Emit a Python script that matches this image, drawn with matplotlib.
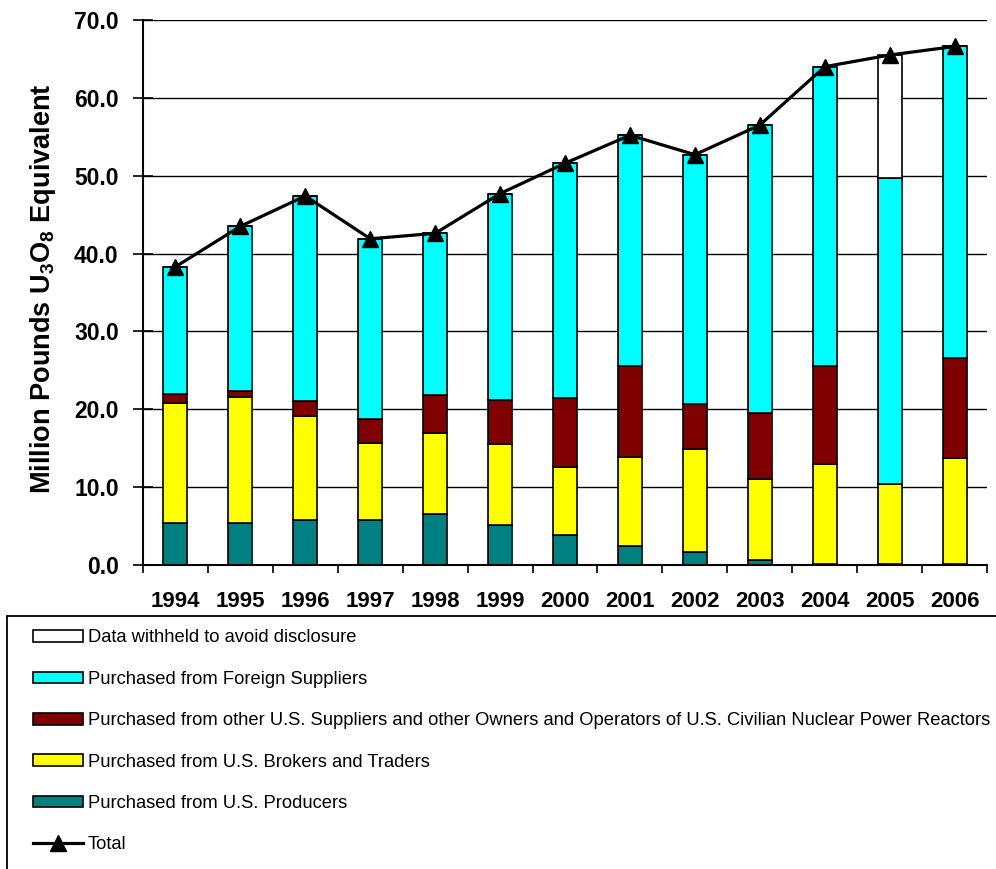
import matplotlib
matplotlib.use("Agg")
import matplotlib.pyplot as plt
from matplotlib.patches import Rectangle
import numpy as np

years = ["1994", "1995", "1996", "1997", "1998", "1999", "2000",
         "2001", "2002", "2003", "2004", "2005", "2006"]

# million pounds U3O8 equivalent
producers = [5.4, 5.4, 5.75, 5.75, 6.5, 5.15, 3.8, 2.45, 1.7, 0.65, 0.15, 0.1, 0.1]
brokers = [15.4, 16.2, 13.35, 9.95, 10.5, 10.35, 8.85, 11.45, 13.25, 10.35, 12.85, 10.25, 13.7]
other_us = [1.2, 0.8, 2.0, 3.0, 4.8, 5.75, 8.85, 11.7, 5.75, 8.5, 12.6, 0.0, 12.8]
foreign = [16.3, 21.1, 26.3, 23.2, 20.8, 26.45, 30.1, 29.6, 32.0, 37.0, 38.4, 39.35, 40.0]
withheld = [0, 0, 0, 0, 0, 0, 0, 0, 0, 0, 0, 15.8, 0]
total = [38.3, 43.5, 47.4, 41.9, 42.6, 47.7, 51.6, 55.2, 52.7, 56.5, 64.0, 65.5, 66.6]

plt.rcParams['font.family'] = ['Liberation Sans', 'DejaVu Sans']
plt.rcParams['mathtext.fontset'] = 'custom'
plt.rcParams['mathtext.rm'] = 'Liberation Sans'
plt.rcParams['mathtext.bf'] = 'Liberation Sans:bold'

W, H = 996, 869
fig = plt.figure(figsize=(W / 100, H / 100), dpi=100)
ax = fig.add_axes([143 / W, 1 - 565 / H, 844 / W, 545 / H])

x = np.arange(len(years))
w = 0.37
series = [
    (producers, "#008080", "Purchased from U.S. Producers"),
    (brokers, "#FFFF00", "Purchased from U.S. Brokers and Traders"),
    (other_us, "#800000", "Purchased from other U.S. Suppliers and other Owners and Operators of U.S. Civilian Nuclear Power Reactors"),
    (foreign, "#00FFFF", "Purchased from Foreign Suppliers"),
    (withheld, "#FFFFFF", "Data withheld to avoid disclosure"),
]
bottom = np.zeros(len(years))
handles = {}
for vals, col, lab in series:
    vals = np.array(vals, dtype=float)
    b = ax.bar(x, vals, w, bottom=bottom, color=col, edgecolor="black",
               linewidth=1.2, label=lab, zorder=2)
    handles[lab] = b
    bottom += vals

line, = ax.plot(x, total, color="black", linewidth=2.3, marker="^",
                markersize=12, label="Total", zorder=3)

ax.set_xlim(-0.5, len(years) - 0.5)
ax.set_ylim(0, 70)
ax.set_yticks(np.arange(0, 71, 10))
ax.set_yticklabels([f"{v:.1f}" for v in np.arange(0, 71, 10)],
                   fontsize=16.5, fontweight="bold")
ax.yaxis.grid(True, color="black", linewidth=1.0, zorder=0)
ax.set_axisbelow(True)

ax.set_xticks(x)
ax.set_xticklabels(years, fontsize=16, fontweight="bold")
ax.tick_params(axis="x", length=0, pad=19)
ax.set_xticks(np.arange(-0.5, len(years), 1), minor=True)
ax.tick_params(axis="x", which="minor", length=6, width=1.2, direction="out")
ax.tick_params(axis="y", length=14, width=1.2, direction="inout", pad=10.5)

for s in ["top", "right"]:
    ax.spines[s].set_visible(False)
ax.spines["left"].set_linewidth(1.5)
ax.spines["bottom"].set_linewidth(1.5)

fig.text(43 / W, 1 - 289 / H, r"Million Pounds U$_\mathbf{3}$O$_\mathbf{8}$ Equivalent",
         rotation=90, ha="center", va="center", fontsize=19.5, fontweight="bold")

# legend frame runs off the right and bottom edges of the picture
fig.patches.append(Rectangle((7 / W, -0.05), 1.1, 1 - 616 / H + 0.05,
                             transform=fig.transFigure, fill=False,
                             edgecolor="black", linewidth=1.3))

order = ["Data withheld to avoid disclosure", "Purchased from Foreign Suppliers",
         "Purchased from other U.S. Suppliers and other Owners and Operators of U.S. Civilian Nuclear Power Reactors",
         "Purchased from U.S. Brokers and Traders", "Purchased from U.S. Producers"]
hs = [handles[k] for k in order] + [line]
labs = order + ["Total"]
fig.legend(hs, labs, loc="upper left", bbox_to_anchor=(33 / W, 1 - 629.5 / H),
           fontsize=13.2, frameon=False, labelspacing=1.33, handlelength=2.73,
           handleheight=0.6, handletextpad=0.27, borderpad=0, borderaxespad=0)

fig.savefig("out.png", dpi=100)
